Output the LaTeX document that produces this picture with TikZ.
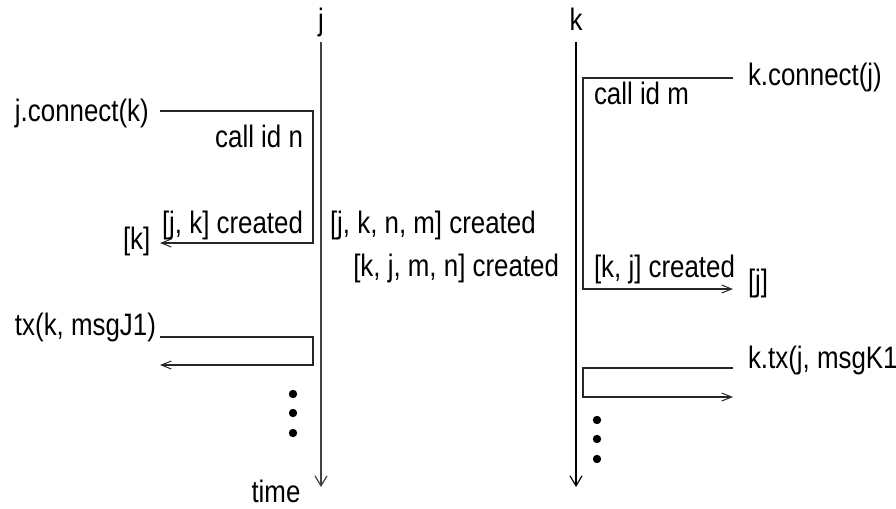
\documentclass[tikz,border=0pt]{standalone}
\usepackage{fontspec}
\setmainfont{Liberation Sans}[FakeStretch=0.835]
\usetikzlibrary{arrows.meta}
\begin{document}
\begin{tikzpicture}[x=0.5pt,y=-0.5pt,
  lbl/.style={inner sep=0pt,outer sep=0pt,font=\fontsize{15.5}{17}\selectfont},
  msg/.style={line width=0.55pt,draw=black!85},
  msgarr/.style={msg,-{Straight Barb[length=5pt,width=4pt,line width=0.5pt]}},
  life/.style={line width=0.7pt,-{Straight Barb[length=5pt,width=6pt,line width=0.6pt]}},
  dotmark/.style={circle,fill=black,inner sep=0pt,minimum size=4.2pt}]
\useasboundingbox (0,0) rectangle (896,509);
% lifelines
\coordinate (jtop) at (321,42); \coordinate (jbot) at (321,487);
\coordinate (ktop) at (576,42); \coordinate (kbot) at (576,487);
\draw[life,draw=black!75] (jtop) -- (jbot);
\draw[life] (ktop) -- (kbot);
\node[lbl,anchor=base] (jlab) at (321,30) {j};
\node[lbl,anchor=base] (klab) at (576,30) {k};
\node[lbl,anchor=base] (time) at (276,502) {time};
% j.connect(k)
\node[lbl,anchor=base west] (jconn) at (15,121) {j.connect(k)};
\coordinate (a1) at (160,111); \coordinate (a2) at (313,111);
\coordinate (a3) at (313,243); \coordinate (a4) at (160,243);
\draw[msgarr] (a1) -- (a2) -- (a3) -- (a4);
\node[lbl,anchor=base east] (callidn) at (303,147) {call id n};
\node[lbl,anchor=base east] (jkc) at (303,233) {[j, k] created};
\node[lbl,anchor=base west] (kres) at (123,249) {[k]};
% middle texts
\node[lbl,anchor=base west] (jknm) at (330,233) {[j, k, n, m] created};
\node[lbl,anchor=base east] (kjmn) at (559,276) {[k, j, m, n] created};
% k.connect(j)
\node[lbl,anchor=base west] (kconn) at (748,85) {k.connect(j)};
\coordinate (b1) at (733,78); \coordinate (b2) at (583,78);
\coordinate (b3) at (583,289); \coordinate (b4) at (733,289);
\draw[msgarr] (b1) -- (b2) -- (b3) -- (b4);
\node[lbl,anchor=base west] (callidm) at (594,104) {call id m};
\node[lbl,anchor=base west] (kjc) at (594,277) {[k, j] created};
\node[lbl,anchor=base west] (jres) at (748,291) {[j]};
% tx(k, msgJ1)
\node[lbl,anchor=base west] (txj) at (15,335) {tx(k, msgJ1)};
\coordinate (c1) at (160,337); \coordinate (c2) at (313,337);
\coordinate (c3) at (313,365); \coordinate (c4) at (160,365);
\draw[msgarr] (c1) -- (c2) -- (c3) -- (c4);
% k.tx(j, msgK1
\node[lbl,anchor=base west] (txk) at (748,368) {k.tx(j, msgK1};
\coordinate (d1) at (733,368); \coordinate (d2) at (583,368);
\coordinate (d3) at (583,397); \coordinate (d4) at (733,397);
\draw[msgarr] (d1) -- (d2) -- (d3) -- (d4);
% dots
\node[dotmark] (jd1) at (293,394) {};
\node[dotmark] (jd2) at (293,413) {};
\node[dotmark] (jd3) at (293,433) {};
\node[dotmark] (kd1) at (597,420) {};
\node[dotmark] (kd2) at (597,439) {};
\node[dotmark] (kd3) at (597,459) {};
\end{tikzpicture}
\end{document}
